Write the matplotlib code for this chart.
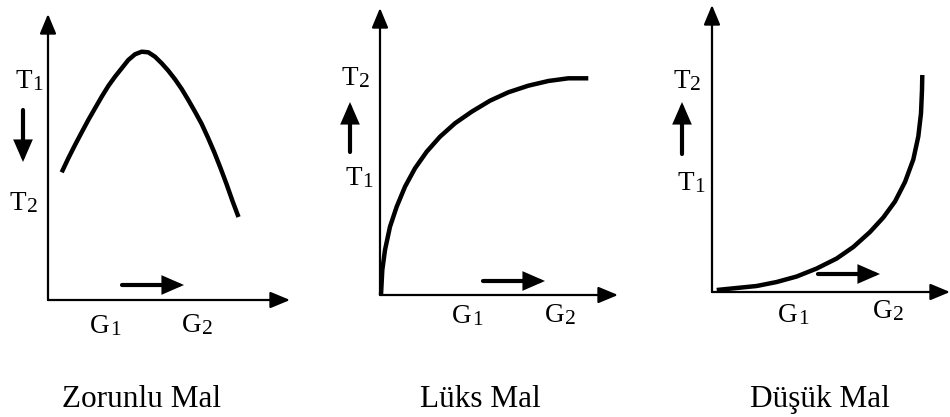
import matplotlib
matplotlib.use("Agg")
import matplotlib.pyplot as plt

# ──────────────────────────────────────────────────────────────
# DATA – curve points (x = G, y = T),
# measured from each panel's origin
# ──────────────────────────────────────────────────────────────
TITLES = ["Zorunlu Mal", "Lüks Mal", "Düşük Mal"]

# Zorunlu Mal – rises to a peak, then falls
NEC_X = [13.7, 20.3, 27, 33.7, 40.3, 47, 53.7, 60.3, 67, 73.7, 80.3, 87, 93.7,
         100.3, 107, 113.7, 120.3, 127, 133.7, 140.3, 147, 153.7, 160, 166.3,
         172.5, 178.5, 184.5, 190.5]
NEC_Y = [127.7, 141.7, 155, 167.7, 180, 191.7, 203.3, 214, 223.3, 231.7, 240,
         245.7, 248.3, 247.7, 243.3, 236.7, 229.3, 220.7, 211, 200, 188.3, 176,
         162.3, 147.7, 132, 116, 99, 83]

# Lüks Mal – concave, flattening out
LUX_X = [1, 2.3, 5, 10, 16.7, 25, 35, 46.7, 60, 75, 91.7, 110, 128.3, 148.3,
         168.3, 188.3, 208.3]
LUX_Y = [0, 25, 45, 68.3, 88.3, 108.3, 126.7, 143.3, 158.3, 171.7, 183.3, 194.3,
         202.7, 209.3, 214, 216.7, 216.7]

# Düşük Mal – convex, shooting up
INF_X = [4.7, 24.7, 44.7, 64.7, 84.7, 104.7, 124.7, 141.3, 158, 171.3, 183, 193,
         201.3, 206.3, 209, 210, 210.3]
INF_Y = [2, 4, 6, 10, 15.5, 23.5, 33.5, 45, 60, 74.5, 90.5, 110, 132.5, 155.5,
         178.7, 202, 217]

CURVES = [(NEC_X, NEC_Y), (LUX_X, LUX_Y), (INF_X, INF_Y)]

# ──────────────────────────────────────────────────────────────
# LAYOUT – pixel geometry of each panel (origin x, origin y, width, height)
# ──────────────────────────────────────────────────────────────
W, H = 950, 417
PANELS = [(48, 300, 242, 286), (380, 295, 238, 287), (712, 292, 238, 287)]

# (letter, subscript, x of letter, baseline y) relative to the origin
LABELS = [
    [("T", "1", -33, 212), ("T", "2", -38, 90), ("G", "1", 42, -33), ("G", "2", 134, -32)],
    [("T", "2", -38, 210), ("T", "1", -35, 110), ("G", "1", 72, -28), ("G", "2", 165, -27)],
    [("T", "2", -39, 204), ("T", "1", -35, 102), ("G", "1", 66, -30), ("G", "2", 161, -26)],
]
# small direction arrows: (x0, y0, x1, y1) relative to origin
DIR_ARROWS = [
    [(-25, 190, -25, 138), (74, 15, 136, 15)],
    [(-30, 143, -30, 193), (103, 14, 165, 14)],
    [(-30, 138, -30, 190), (106, 18, 168, 18)],
]
TITLE_X = [94, 100, 108]
TITLE_BASE = 407

FONT = "Liberation Serif"
MAIN_FS, SUB_FS, TITLE_FS = 19.5, 15.5, 22.5

fig = plt.figure(figsize=(W / 100, H / 100), dpi=100)

for i, (ox, oy, pw, ph) in enumerate(PANELS):
    ax = fig.add_axes([ox / W, (H - oy) / H, pw / W, ph / H])
    ax.set_xlim(0, pw)
    ax.set_ylim(0, ph)
    ax.set_axis_off()

    # axes as arrows
    head = "-|>,head_length=0.6,head_width=0.25"
    for tip in [(0, ph), (pw, 0)]:
        ax.annotate("", xy=tip, xytext=(0, 0),
                    arrowprops=dict(arrowstyle=head, lw=1.6, color="black",
                                    mutation_scale=20, shrinkA=0, shrinkB=0),
                    annotation_clip=False)

    # curve
    cx, cy = CURVES[i]
    ax.plot(cx, cy, color="black", lw=3.2, solid_capstyle="butt",
            solid_joinstyle="round", clip_on=False)

    # direction arrows
    for x0, y0, x1, y1 in DIR_ARROWS[i]:
        ax.annotate("", xy=(x1, y1), xytext=(x0, y0),
                    arrowprops=dict(arrowstyle="-|>,head_length=0.55,head_width=0.24",
                                    lw=3, color="black", mutation_scale=20,
                                    shrinkA=0, shrinkB=0, joinstyle="miter"),
                    annotation_clip=False)

    # labels with subscripts
    for letter, sub, lx, ly in LABELS[i]:
        t = ax.text(lx, ly, letter, fontsize=MAIN_FS, family=FONT,
                    ha="left", va="baseline", clip_on=False)
        ax.annotate(sub, xy=(1, 0), xycoords=t, xytext=(0.3, -0.6),
                    textcoords="offset points", fontsize=SUB_FS, family=FONT,
                    ha="left", va="bottom", annotation_clip=False)

    ax.text(TITLE_X[i], -(TITLE_BASE - oy), TITLES[i], fontsize=TITLE_FS,
            family=FONT, ha="center", va="baseline", clip_on=False)

fig.savefig("out.png", dpi=100, facecolor="white")
